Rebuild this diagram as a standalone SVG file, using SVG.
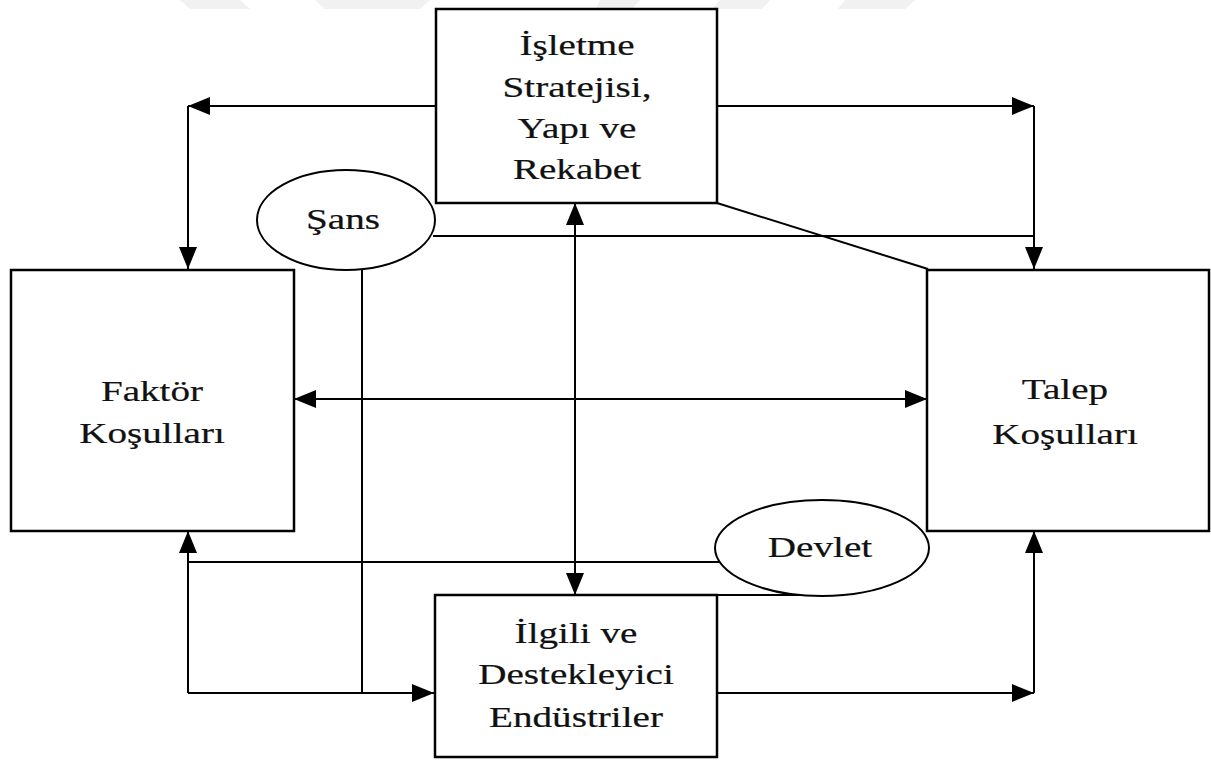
<svg xmlns="http://www.w3.org/2000/svg" width="1211" height="760" viewBox="0 0 1211 760">
  <style>
    .box { fill: #ffffff; stroke: #000000; stroke-width: 2.5; }
    .oval { fill: #ffffff; stroke: #000000; stroke-width: 2; }
    .wire { fill: none; stroke: #000000; stroke-width: 2; }
    .lbl { font-family: "Liberation Serif", "Times New Roman", serif; font-size: 29px; fill: #111111; stroke: #111111; stroke-width: 0.2; text-anchor: middle; }
    .mark { fill: #f1f1f1; }
  </style>
  <defs>
    <marker id="arrow" viewBox="0 0 22 18" refX="22" refY="9" markerWidth="22" markerHeight="18" markerUnits="userSpaceOnUse" orient="auto-start-reverse">
      <path d="M0,0 L22,9 L0,18 z" fill="#000000"/>
    </marker>
  </defs>

  <rect width="1211" height="760" fill="#ffffff"/>

  <!-- faint stripes along the top edge -->
  <g id="top-stripes">
    <polygon class="mark" points="180,0 240,0 250,9 190,9"/>
    <polygon class="mark" points="315,0 430,0 420,9 325,9"/>
    <polygon class="mark" points="600,0 640,0 632,9 596,9"/>
    <polygon class="mark" points="720,0 770,0 762,9 712,9"/>
    <polygon class="mark" points="845,0 915,0 905,9 838,9"/>
  </g>

  <!-- connectors -->
  <g id="connectors">
    <path class="wire" d="M436,106 H188" marker-end="url(#arrow)"/>
    <path class="wire" d="M188,106 V269" marker-end="url(#arrow)"/>
    <path class="wire" d="M717,106 H1034" marker-end="url(#arrow)"/>
    <path class="wire" d="M1034,106 V269" marker-end="url(#arrow)"/>
    <path class="wire" d="M433,236 H1034"/>
    <path class="wire" d="M717,203 L928,269"/>
    <path class="wire" d="M362,268 V693"/>
    <path class="wire" d="M575,203 V595" marker-start="url(#arrow)" marker-end="url(#arrow)"/>
    <path class="wire" d="M294,399 H927" marker-start="url(#arrow)" marker-end="url(#arrow)"/>
    <path class="wire" d="M722,562 H188"/>
    <path class="wire" d="M188,693 V531" marker-end="url(#arrow)"/>
    <path class="wire" d="M188,693 H434" marker-end="url(#arrow)"/>
    <path class="wire" d="M717,595 H810"/>
    <path class="wire" d="M717,693 H1034" marker-end="url(#arrow)"/>
    <path class="wire" d="M1034,693 V531" marker-end="url(#arrow)"/>
  </g>

  <!-- firm strategy, structure and rivalry -->
  <g id="isletme">
    <rect class="box" x="436" y="9" width="281" height="194"/>
    <g transform="translate(577,0) scale(1.35,1)">
      <text class="lbl" x="0" y="55">İşletme</text>
      <text class="lbl" x="0" y="97">Stratejisi,</text>
      <text class="lbl" x="0" y="138">Yapı ve</text>
      <text class="lbl" x="0" y="179">Rekabet</text>
    </g>
  </g>

  <!-- factor conditions -->
  <g id="faktor">
    <rect class="box" x="11" y="270" width="283" height="261"/>
    <g transform="translate(152,0) scale(1.35,1)">
      <text class="lbl" x="0" y="401">Faktör</text>
      <text class="lbl" x="0" y="443">Koşulları</text>
    </g>
  </g>

  <!-- demand conditions -->
  <g id="talep">
    <rect class="box" x="927" y="270" width="282" height="261"/>
    <g transform="translate(1065,0) scale(1.35,1)">
      <text class="lbl" x="0" y="399">Talep</text>
      <text class="lbl" x="0" y="444">Koşulları</text>
    </g>
  </g>

  <!-- related and supporting industries -->
  <g id="ilgili">
    <rect class="box" x="435" y="595" width="282" height="162"/>
    <g transform="translate(576,0) scale(1.35,1)">
      <text class="lbl" x="0" y="643">İlgili ve</text>
      <text class="lbl" x="0" y="684">Destekleyici</text>
      <text class="lbl" x="0" y="727">Endüstriler</text>
    </g>
  </g>

  <!-- chance -->
  <g id="sans">
    <ellipse class="oval" cx="346" cy="220" rx="89" ry="50"/>
    <g transform="translate(343,0) scale(1.35,1)">
      <text class="lbl" x="0" y="229">Şans</text>
    </g>
  </g>

  <!-- government -->
  <g id="devlet">
    <ellipse class="oval" cx="822" cy="548" rx="107" ry="48"/>
    <g transform="translate(820,0) scale(1.35,1)">
      <text class="lbl" x="0" y="557">Devlet</text>
    </g>
  </g>
</svg>
